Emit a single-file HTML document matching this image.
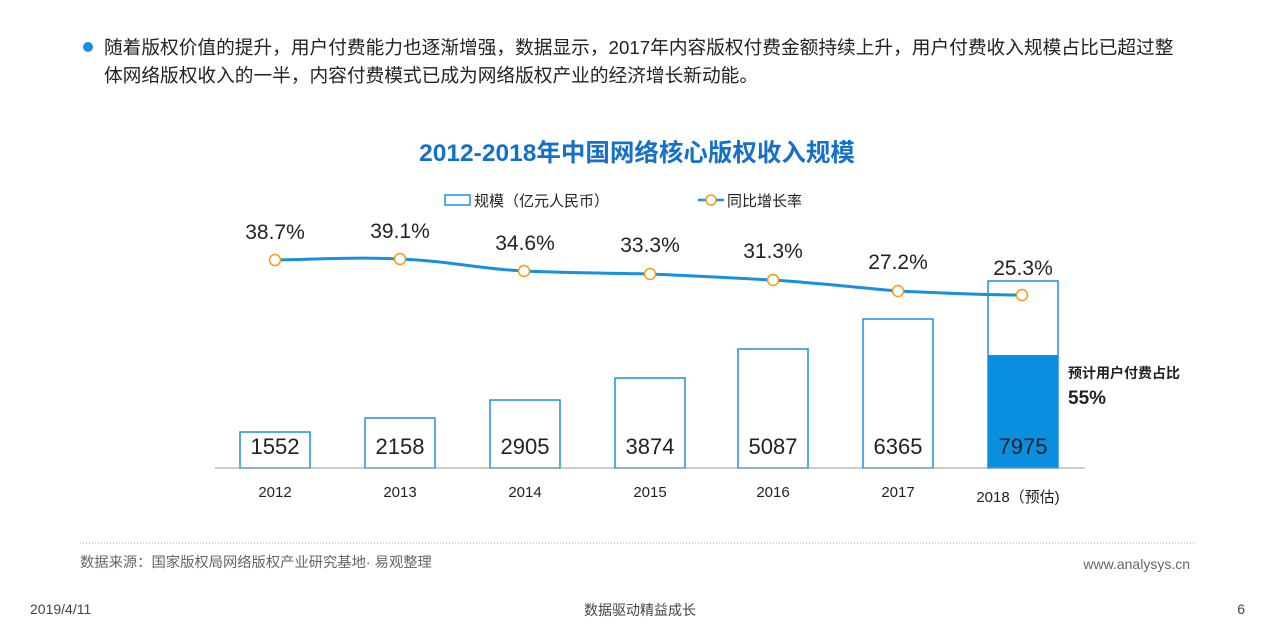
<!DOCTYPE html><html><head><meta charset="utf-8"><style>
body{margin:0;width:1280px;height:636px;background:#fff;overflow:hidden;font-family:"Liberation Sans","Noto Sans CJK SC",sans-serif}
svg{position:absolute;left:0;top:0}
</style></head><body>
<svg width="1280" height="636" viewBox="0 0 1280 636" font-family="Liberation Sans, Noto Sans CJK SC, sans-serif">
<circle cx="88" cy="47" r="5" fill="#1a8fe0"/>
<text x="104" y="54" font-size="18.7" fill="#222">随着版权价值的提升，用户付费能力也逐渐增强，数据显示，2017年内容版权付费金额持续上升，用户付费收入规模占比已超过整</text>
<text x="104" y="82" font-size="18.7" fill="#222">体网络版权收入的一半，内容付费模式已成为网络版权产业的经济增长新动能。</text>
<text x="637" y="161" font-size="24.5" font-weight="bold" fill="#1470c8" text-anchor="middle">2012-2018年中国网络核心版权收入规模</text>
<rect x="445" y="195" width="25" height="10" fill="#fff" stroke="#1a8fe0" stroke-width="1.5"/>
<text x="474" y="206" font-size="15" fill="#222">规模（亿元人民币）</text>
<line x1="698" y1="200" x2="724" y2="200" stroke="#1a8fe0" stroke-width="2.5"/>
<circle cx="711" cy="200" r="5" fill="#fff" stroke="#f39c12" stroke-width="1.5"/>
<text x="727" y="206" font-size="15" fill="#222">同比增长率</text>
<g fill="#fff" stroke="#1a8fe0" stroke-width="1.5">
<rect x="240" y="432" width="70" height="36"/>
<rect x="365" y="418" width="70" height="50"/>
<rect x="490" y="400" width="70" height="68"/>
<rect x="615" y="378" width="70" height="90"/>
<rect x="738" y="349" width="70" height="119"/>
<rect x="863" y="319" width="70" height="149"/>
<rect x="988" y="281" width="70" height="187"/>
</g>
<rect x="988" y="355" width="70" height="113" fill="#0a8ee0"/>
<line x1="215" y1="468" x2="1085" y2="468" stroke="#999" stroke-width="1"/>
<g font-size="22" fill="#222" text-anchor="middle">
<text x="275" y="454">1552</text><text x="400" y="454">2158</text><text x="525" y="454">2905</text><text x="650" y="454">3874</text><text x="773" y="454">5087</text><text x="898" y="454">6365</text><text x="1023" y="454">7975</text>
</g>
<g font-size="15" fill="#222" text-anchor="middle">
<text x="275" y="497">2012</text><text x="400" y="497">2013</text><text x="525" y="497">2014</text><text x="650" y="497">2015</text><text x="773" y="497">2016</text><text x="898" y="497">2017</text><text x="1018" y="502">2018（预估)</text>
</g>
<path d="M275,260 C330,259 360,257 400,259 C450,261 480,269 524,271 C570,273 610,273 650,274 C700,276 730,278 773,280 C820,283 860,288 898,291 C940,293 990,295 1022,295" fill="none" stroke="#1a8fe0" stroke-width="3"/>
<g fill="#fff" stroke="#f39c12" stroke-width="1.5">
<circle cx="275" cy="260" r="5.5"/><circle cx="400" cy="259" r="5.5"/><circle cx="524" cy="271" r="5.5"/><circle cx="650" cy="274" r="5.5"/><circle cx="773" cy="280" r="5.5"/><circle cx="898" cy="291" r="5.5"/><circle cx="1022" cy="295" r="5.5"/>
</g>
<g font-size="21" fill="#222" text-anchor="middle">
<text x="275" y="239">38.7%</text><text x="400" y="238">39.1%</text><text x="525" y="250">34.6%</text><text x="650" y="252">33.3%</text><text x="773" y="258">31.3%</text><text x="898" y="269">27.2%</text><text x="1023" y="275">25.3%</text>
</g>
<text x="1068" y="378" font-size="14" font-weight="bold" fill="#222">预计用户付费占比</text>
<text x="1068" y="404" font-size="19" font-weight="bold" fill="#222">55%</text>
<line x1="80" y1="543" x2="1195" y2="543" stroke="#aaa" stroke-dasharray="1,2"/>
<text x="80" y="567" font-size="14.3" fill="#666">数据来源：国家版权局网络版权产业研究基地· 易观整理</text>
<text x="1190" y="569" font-size="14" fill="#666" text-anchor="end">www.analysys.cn</text>
<text x="30" y="614" font-size="14" fill="#444">2019/4/11</text>
<text x="640" y="615" font-size="14" fill="#444" text-anchor="middle">数据驱动精益成长</text>
<text x="1245" y="614" font-size="14" fill="#444" text-anchor="end">6</text>
</svg>
</body></html>
